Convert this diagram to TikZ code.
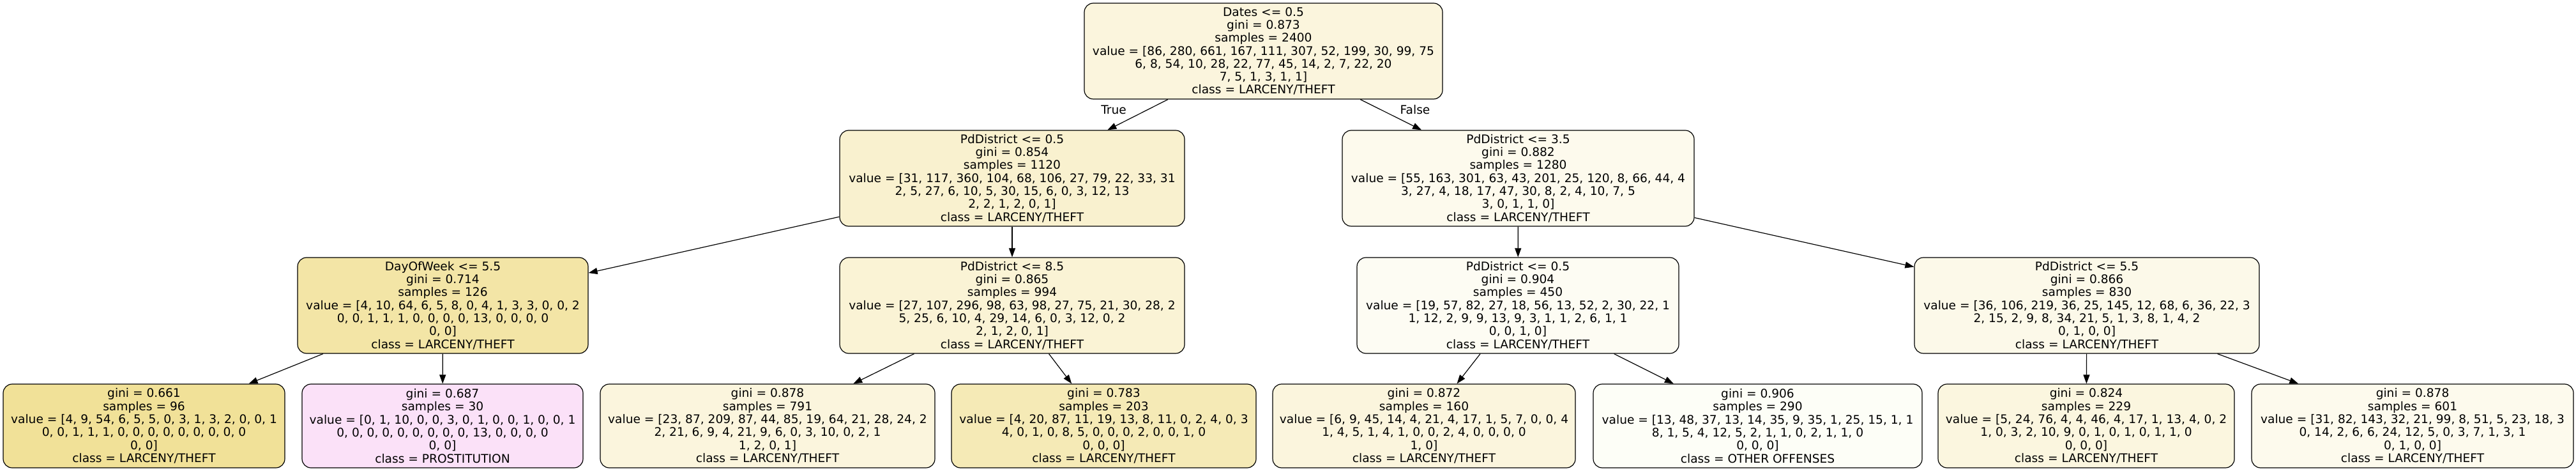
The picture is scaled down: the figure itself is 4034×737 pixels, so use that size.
\documentclass[tikz,border=0pt]{standalone}
\usepackage{fontspec}
\setmainfont{DejaVu Sans}
\usepackage{xcolor}
\definecolor{larceny}{RGB}{229, 198, 57}
\definecolor{prostitution}{RGB}{229, 57, 210}
\definecolor{otherOffenses}{RGB}{200, 229, 57}
\usepackage{tikz}
\usetikzlibrary{arrows.meta,shapes,positioning}
\tikzstyle{edge}  =[->, >={Triangle[length=7pt,width=5pt]},
                    line width=0.6pt]
\tikzstyle{split}=[rectangle, draw, rounded corners=7pt,
                    line width=0.6pt, inner sep=0pt, align=center,
                    minimum height=75pt,
                    font=\fontsize{9.3}{10.15}\selectfont]
\tikzstyle{leaf}=[split, minimum height=65.5pt]
\tikzstyle{elabel}=[font=\fontsize{9.3}{10.15}\selectfont]

\begin{document}
\begin{tikzpicture}[x=0.5pt,y=-0.5pt]
    \useasboundingbox (0,0) rectangle (4034,737);

    \draw (1978.5,80) node(0)[split,fill=larceny!17,minimum width=280.5pt]
        {Dates <= 0.5\\gini = 0.873\\samples = 2400\\
         value = [86, 280, 661, 167, 111, 307, 52, 199, 30, 99, 75\\
         6, 8, 54, 10, 28, 22, 77, 45, 14, 2, 7, 22, 20\\
         7, 5, 1, 3, 1, 1]\\class = LARCENY/THEFT};

    \draw (1585,279) node(1)[split,fill=larceny!24,minimum width=270pt]
        {PdDistrict <= 0.5\\gini = 0.854\\samples = 1120\\
         value = [31, 117, 360, 104, 68, 106, 27, 79, 22, 33, 31\\
         2, 5, 27, 6, 10, 5, 30, 15, 6, 0, 3, 12, 13\\
         2, 2, 1, 2, 0, 1]\\class = LARCENY/THEFT};
    \draw (2377.5,279) node(8)[split,fill=larceny!9,minimum width=275.5pt]
        {PdDistrict <= 3.5\\gini = 0.882\\samples = 1280\\
         value = [55, 163, 301, 63, 43, 201, 25, 120, 8, 66, 44, 4\\
         3, 27, 4, 18, 17, 47, 30, 8, 2, 4, 10, 7, 5\\
         3, 0, 1, 1, 0]\\class = LARCENY/THEFT};

    \draw (693.5,478) node(2)[split,fill=larceny!45,minimum width=227.5pt]
        {DayOfWeek <= 5.5\\gini = 0.714\\samples = 126\\
         value = [4, 10, 64, 6, 5, 8, 0, 4, 1, 3, 3, 0, 0, 2\\
         0, 0, 1, 1, 1, 0, 0, 0, 0, 13, 0, 0, 0, 0\\
         0, 0]\\class = LARCENY/THEFT};
    \draw (1585,478) node(5)[split,fill=larceny!21,minimum width=270pt]
        {PdDistrict <= 8.5\\gini = 0.865\\samples = 994\\
         value = [27, 107, 296, 98, 63, 98, 27, 75, 21, 30, 28, 2\\
         5, 25, 6, 10, 4, 29, 14, 6, 0, 3, 12, 0, 2\\
         2, 1, 2, 0, 1]\\class = LARCENY/THEFT};
    \draw (2377,478) node(9)[split,fill=larceny!6,minimum width=252pt]
        {PdDistrict <= 0.5\\gini = 0.904\\samples = 450\\
         value = [19, 57, 82, 27, 18, 56, 13, 52, 2, 30, 22, 1\\
         1, 12, 2, 9, 9, 13, 9, 3, 1, 1, 2, 6, 1, 1\\
         0, 0, 1, 0]\\class = LARCENY/THEFT};
    \draw (3268,478) node(12)[split,fill=larceny!11,minimum width=270pt]
        {PdDistrict <= 5.5\\gini = 0.866\\samples = 830\\
         value = [36, 106, 219, 36, 25, 145, 12, 68, 6, 36, 22, 3\\
         2, 15, 2, 9, 8, 34, 21, 5, 1, 3, 8, 1, 4, 2\\
         0, 1, 0, 0]\\class = LARCENY/THEFT};

    \draw (225.5,666.5) node(3)[leaf,fill=larceny!52,minimum width=220.5pt]
        {gini = 0.661\\samples = 96\\
         value = [4, 9, 54, 6, 5, 5, 0, 3, 1, 3, 2, 0, 0, 1\\
         0, 0, 1, 1, 1, 0, 0, 0, 0, 0, 0, 0, 0, 0\\
         0, 0]\\class = LARCENY/THEFT};
    \draw (693,666.5) node(4)[leaf,fill=prostitution!15,minimum width=220pt]
        {gini = 0.687\\samples = 30\\
         value = [0, 1, 10, 0, 0, 3, 0, 1, 0, 0, 1, 0, 0, 1\\
         0, 0, 0, 0, 0, 0, 0, 0, 0, 13, 0, 0, 0, 0\\
         0, 0]\\class = PROSTITUTION};
    \draw (1202,666.5) node(6)[leaf,fill=larceny!17,minimum width=262pt]
        {gini = 0.878\\samples = 791\\
         value = [23, 87, 209, 87, 44, 85, 19, 64, 21, 28, 24, 2\\
         2, 21, 6, 9, 4, 21, 9, 6, 0, 3, 10, 0, 2, 1\\
         1, 2, 0, 1]\\class = LARCENY/THEFT};
    \draw (1728.5,666.5) node(7)[leaf,fill=larceny!37,minimum width=238.5pt]
        {gini = 0.783\\samples = 203\\
         value = [4, 20, 87, 11, 19, 13, 8, 11, 0, 2, 4, 0, 3\\
         4, 0, 1, 0, 8, 5, 0, 0, 0, 2, 0, 0, 1, 0\\
         0, 0, 0]\\class = LARCENY/THEFT};
    \draw (2230,666.5) node(10)[leaf,fill=larceny!17,minimum width=237pt]
        {gini = 0.872\\samples = 160\\
         value = [6, 9, 45, 14, 4, 21, 4, 17, 1, 5, 7, 0, 0, 4\\
         1, 4, 5, 1, 4, 1, 0, 0, 2, 4, 0, 0, 0, 0\\
         1, 0]\\class = LARCENY/THEFT};
    \draw (2752.5,666.5) node(11)[leaf,fill=otherOffenses!4,minimum width=257.5pt]
        {gini = 0.906\\samples = 290\\
         value = [13, 48, 37, 13, 14, 35, 9, 35, 1, 25, 15, 1, 1\\
         8, 1, 5, 4, 12, 5, 2, 1, 1, 0, 2, 1, 1, 0\\
         0, 0, 0]\\class = OTHER OFFENSES};
    \draw (3267,666.5) node(13)[leaf,fill=larceny!16,minimum width=232pt]
        {gini = 0.824\\samples = 229\\
         value = [5, 24, 76, 4, 4, 46, 4, 17, 1, 13, 4, 0, 2\\
         1, 0, 3, 2, 10, 9, 0, 1, 0, 1, 0, 1, 1, 0\\
         0, 0, 0]\\class = LARCENY/THEFT};
    \draw (3778,666.5) node(14)[leaf,fill=larceny!9,minimum width=252pt]
        {gini = 0.878\\samples = 601\\
         value = [31, 82, 143, 32, 21, 99, 8, 51, 5, 23, 18, 3\\
         0, 14, 2, 6, 6, 24, 12, 5, 0, 3, 7, 1, 3, 1\\
         0, 1, 0, 0]\\class = LARCENY/THEFT};

    \draw (1744,172) node(t)[elabel]{True};
    \draw (2216,172) node(f)[elabel]{False};

    \foreach \i/\j in {0/1,0/8,1/2,1/5,8/9,8/12,2/3,2/4,5/6,5/7,
        9/10,9/11,12/13,12/14}
        \draw [edge] (\i) to (\j);

\end{tikzpicture}
\end{document}
